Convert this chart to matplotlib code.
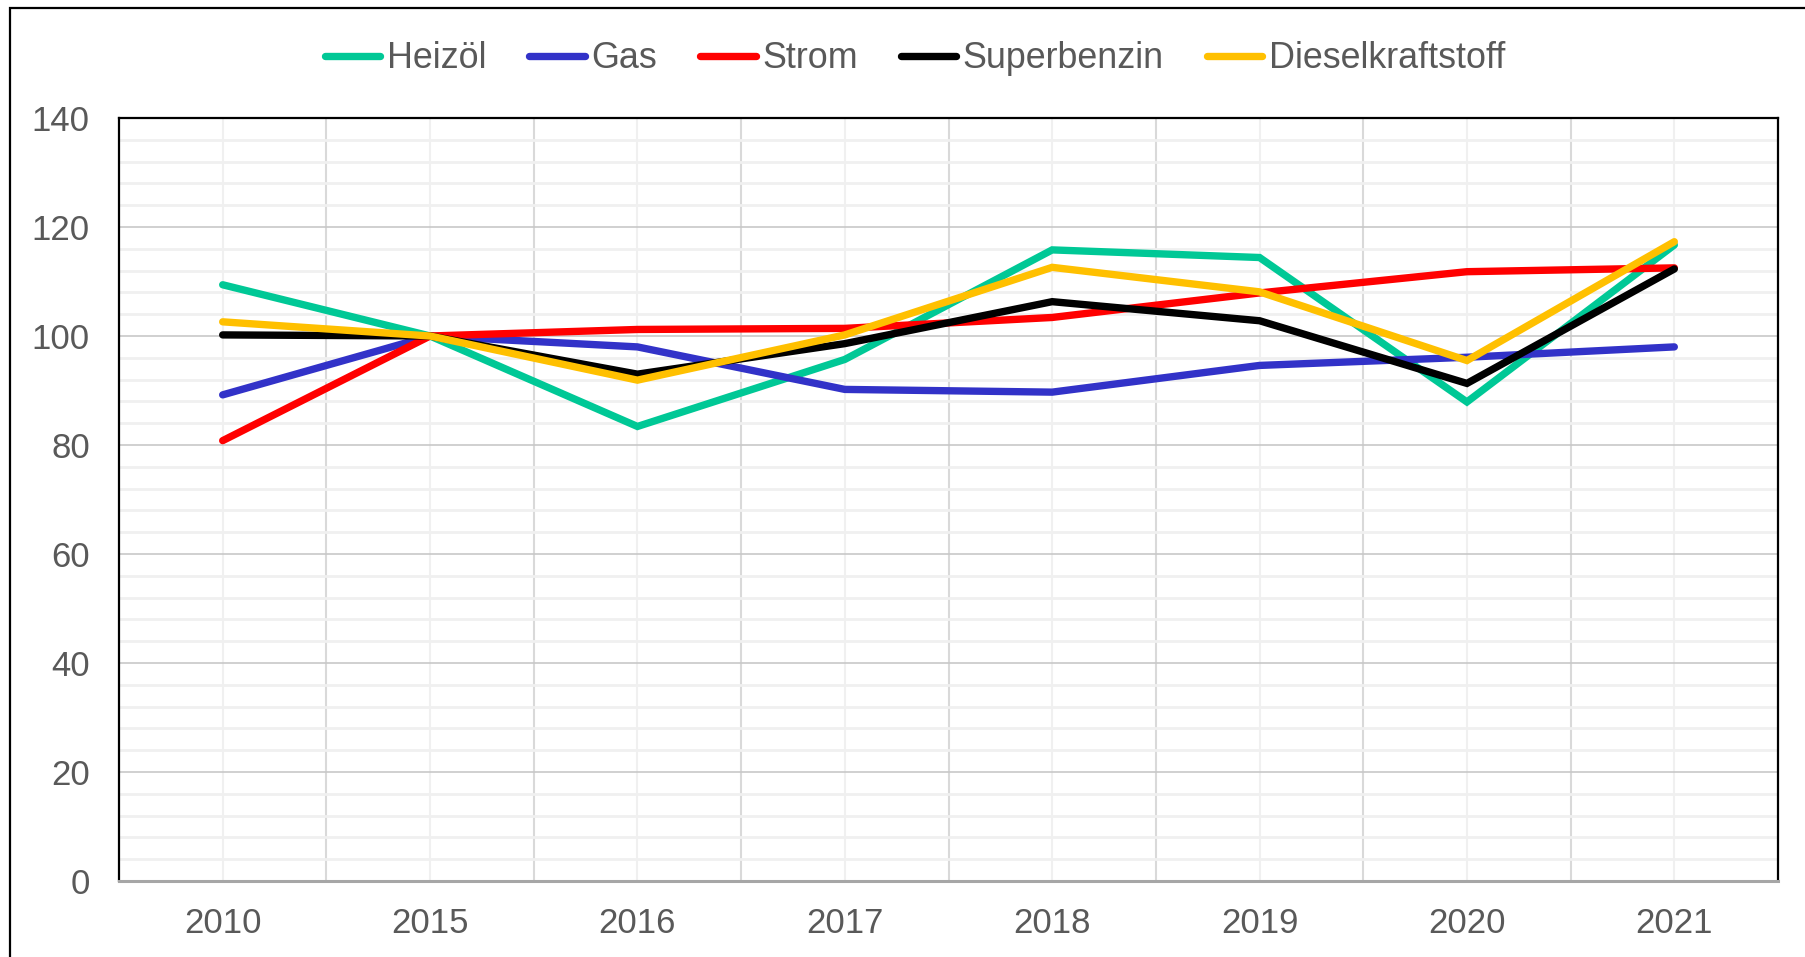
import numpy as np
import matplotlib
matplotlib.use("Agg")
import matplotlib.pyplot as plt
from matplotlib.patches import Rectangle
from matplotlib.ticker import MultipleLocator, FixedLocator

plt.rcParams["font.family"] = ["Liberation Sans", "DejaVu Sans"]

years = ["2010", "2015", "2016", "2017", "2018", "2019", "2020", "2021"]

heizoel = [109.4, 100.0, 83.4, 95.7, 115.8, 114.4, 87.9, 116.7]
gas = [89.2, 100.0, 98.0, 90.2, 89.7, 94.6, 96.1, 98.0]
strom = [80.8, 100.0, 101.2, 101.4, 103.4, 107.9, 111.8, 112.5]
superbenzin = [100.2, 100.0, 93.0, 98.6, 106.3, 102.8, 91.3, 112.3]
diesel = [102.6, 100.0, 91.9, 100.2, 112.6, 108.1, 95.5, 117.3]

series = [
    ("Heizöl", heizoel, "#00C896"),
    ("Gas", gas, "#3232C8"),
    ("Strom", strom, "#FF0000"),
    ("Superbenzin", superbenzin, "#000000"),
    ("Dieselkraftstoff", diesel, "#FFC000"),
]

text_color = "#595959"
W, H = 1805, 957
lw = 5.3

fig = plt.figure(figsize=(W / 100, H / 100), dpi=100)
ax = fig.add_axes([119 / W, 1 - 881 / H, (1778 - 119) / W, (881 - 118) / H])

x = np.arange(len(years))
for name, vals, col in series:
    ax.plot(x, vals, color=col, lw=lw, label=name, solid_capstyle="round",
            solid_joinstyle="miter", zorder=3)

ax.set_xlim(-0.5, len(years) - 0.5)
ax.set_ylim(0, 140)

# horizontal grid: every 20 (major) and every 4 (minor)
ax.yaxis.set_major_locator(MultipleLocator(20))
ax.yaxis.set_minor_locator(MultipleLocator(4))
ax.grid(which="minor", axis="y", color="#F0F0F0", lw=2.0, zorder=0)
ax.grid(which="major", axis="y", color="#C8C8C8", lw=1.2, zorder=1)

# vertical grid: category centres light, boundaries darker
ax.set_xticks(x)
ax.set_xticklabels(years)
ax.xaxis.set_minor_locator(FixedLocator(np.arange(0.5, len(years) - 0.5, 1.0)))
ax.grid(which="major", axis="x", color="#F0F0F0", lw=1.5, zorder=0)
ax.grid(which="minor", axis="x", color="#D9D9D9", lw=1.5, zorder=1)

ax.tick_params(which="both", length=0)
ax.tick_params(axis="y", labelsize=25, labelcolor=text_color, pad=21)
ax.tick_params(axis="x", labelsize=25, labelcolor=text_color, pad=19)

for side in ["top", "right", "left"]:
    ax.spines[side].set_color("black")
    ax.spines[side].set_linewidth(1.6)
ax.spines["bottom"].set_color("#A6A6A6")
ax.spines["bottom"].set_linewidth(2.2)

leg = fig.legend(
    loc="center", bbox_to_anchor=(915 / W, 1 - 59 / H), ncol=5, frameon=False,
    fontsize=25.8, handlelength=1.55, handletextpad=0.18, columnspacing=1.2,
)
for t in leg.get_texts():
    t.set_color(text_color)
for h in leg.get_lines():
    h.set_linewidth(lw)
    h.set_solid_capstyle("round")

# outer chart frame
fig.patches.append(Rectangle((10 / W, -0.05), 1.2, 1.05 - 8 / H,
                             transform=fig.transFigure, fill=False,
                             edgecolor="black", lw=1.6))

fig.savefig("out.png", dpi=100)
